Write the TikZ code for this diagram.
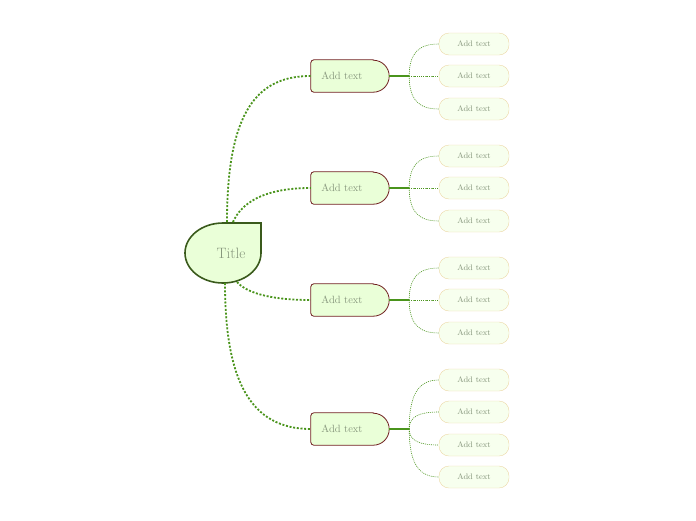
\documentclass[tikz,border=0pt]{standalone}
\usepackage{tikz}
\usetikzlibrary{positioning, calc}
\definecolor{leafgreen}{RGB}{74, 148, 28}
\definecolor{titleline}{RGB}{58, 90, 28}
\definecolor{branchline}{RGB}{112, 32, 32}
\definecolor{subline}{RGB}{236, 216, 166}
\definecolor{mossfill}{RGB}{234, 255, 216}
\definecolor{palefill}{RGB}{247, 255, 238}
\definecolor{greytext}{RGB}{134, 150, 124}

\begin{document}
\begin{tikzpicture}[x=1pt, y=-1pt,
  tbox/.style={text=greytext, font=\fontsize{15}{17}\selectfont},
  bbox/.style={minimum width=62pt, minimum height=32pt, inner sep=0pt, text=greytext, font=\fontsize{10.5}{12}\selectfont},
  bline/.style={draw=branchline, fill=mossfill, line width=0.8pt},
  lbox/.style={draw=subline, fill=palefill, rounded corners=10pt, minimum width=70pt, minimum height=22pt, inner sep=0pt, text=greytext, font=\fontsize{8}{10}\selectfont},
  mainlink/.style={draw=leafgreen, line width=1.8pt, dash pattern=on 2pt off 1.7pt},
  stem/.style={draw=leafgreen, line width=1.1pt},
  sublink/.style={draw=leafgreen, line width=0.6pt, dash pattern=on 1pt off 1pt}
]
  \useasboundingbox (0,0) rectangle (696,520);

  % title drop
  \filldraw[draw=titleline, fill=mossfill, line width=1.6pt] (261,223) -- (223,223)
    arc[start angle=-90, end angle=-360, x radius=38, y radius=30] -- cycle;
  \node[tbox] (title) at (231,253) {Title};
  \coordinate (t1) at (227,222);
  \coordinate (t2) at (233,222);
  \coordinate (t3) at (237,282);
  \coordinate (t4) at (225,283);

  % branches
  \node[bbox] (b1) at (342,76) {};
  \node[bbox] (b2) at (342,188) {};
  \node[bbox] (b3) at (342,300) {};
  \node[bbox] (b4) at (342,429) {};
  \foreach \b in {b1,b2,b3,b4} {
    \filldraw[bline] (\b.north east) -- ($(\b.north west)+(3,0)$)
      arc[start angle=-90, end angle=-180, radius=3] -- ($(\b.south west)+(0,-3)$)
      arc[start angle=180, end angle=90, radius=3] -- (\b.south east)
      arc[start angle=90, end angle=-90, radius=16] -- cycle;
    \node[bbox] at (\b) {Add text};
  }

  \draw[mainlink] (t1) .. controls (227,110) and (258,76) .. (b1.west);
  \draw[mainlink] (t2) .. controls (241,204) and (262,188) .. (b2.west);
  \draw[mainlink] (t3) .. controls (246,292) and (268,300) .. (b3.west);
  \draw[mainlink] (t4) .. controls (225,380) and (250,429) .. (b4.west);

  % leaves
  \node[lbox] (l11) at (474,44) {Add text};
  \node[lbox] (l12) at (474,76) {Add text};
  \node[lbox] (l13) at (474,109) {Add text};
  \node[lbox] (l21) at (474,156) {Add text};
  \node[lbox] (l22) at (474,188) {Add text};
  \node[lbox] (l23) at (474,221) {Add text};
  \node[lbox] (l31) at (474,268) {Add text};
  \node[lbox] (l32) at (474,300) {Add text};
  \node[lbox] (l33) at (474,333) {Add text};
  \node[lbox] (l41) at (474,380) {Add text};
  \node[lbox] (l42) at (474,412) {Add text};
  \node[lbox] (l43) at (474,445) {Add text};
  \node[lbox] (l44) at (474,477) {Add text};

  % stems and leaf links
  \foreach \b/\leaves in {b1/{l11,l12,l13}, b2/{l21,l22,l23}, b3/{l31,l32,l33}, b4/{l41,l42,l43,l44}} {
    \coordinate (e) at ($(\b.east)+(16,0)$);
    \coordinate (j) at ($(\b.east)+(36,0)$);
    \draw[stem] (e) -- (j);
    \foreach \l in \leaves {
      \draw[sublink] (j) .. controls ($(j)!0.75!(j|-\l.west)$) and ($(\l.west)+(-19,0)$) .. (\l.west);
    }
  }
\end{tikzpicture}
\end{document}
